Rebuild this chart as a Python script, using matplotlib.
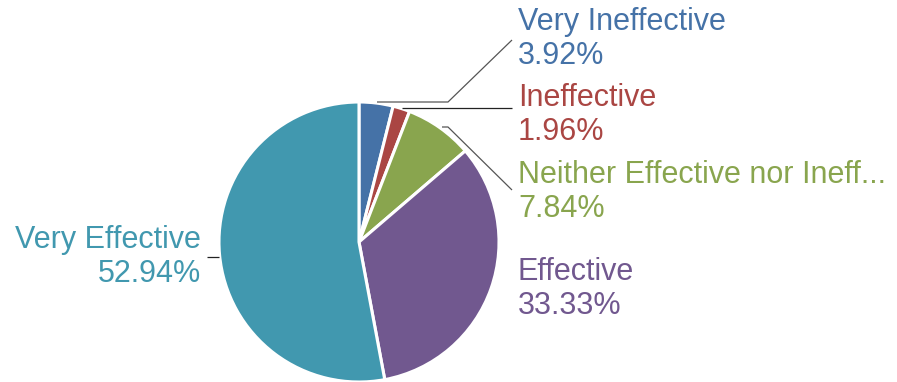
import matplotlib.pyplot as plt

# data
labels = ['Very Ineffective', 'Ineffective', 'Neither Effective nor Ineff...',
          'Effective', 'Very Effective']
pcts = [3.92, 1.96, 7.84, 33.33, 52.94]
colors = ['#4572A7', '#AA4643', '#89A54E', '#71588F', '#4198AF']

plt.rcParams['font.family'] = ['Liberation Sans', 'DejaVu Sans']

W, H = 897, 382
fig = plt.figure(figsize=(W / 100, H / 100), dpi=100)
ax = fig.add_axes([0, 0, 1, 1])
ax.set_xlim(0, W)
ax.set_ylim(0, H)
ax.set_aspect('equal')
ax.axis('off')

cx, cy, r = 359, H - 242, 140
ax.pie(pcts, colors=colors, startangle=90, counterclock=False,
       center=(cx, cy), radius=r, explode=[0.015] * 5,
       wedgeprops=dict(edgecolor='white', linewidth=2.2))
ax.set_xlim(0, W)
ax.set_ylim(0, H)

# label positions (pixel coords from top)
pos = [(518, 22), (518, 98), (518, 175), (518, 272), (201, 240)]
fs = 22
for (x, y), lab, p, c in zip(pos, labels, pcts, colors):
    ha = 'right' if x < cx else 'left'
    ax.text(x, H - y, lab, color=c, fontsize=fs, ha=ha, va='center')
    ax.text(x, H - y - 34, f'{p:.2f}%', color=c, fontsize=fs, ha=ha, va='center')

# leader lines
def line(pts, col):
    ax.plot([p[0] for p in pts], [H - p[1] for p in pts], color=col, lw=0.9,
            solid_capstyle='butt')

line([(377, 102), (448, 102), (512, 40)], '#555555')
line([(402, 108), (512, 108)], '#222222')
line([(442, 127), (448, 127), (512, 190)], '#555555')
line([(207, 257), (219, 257)], '#222222')

fig.savefig('out.png', dpi=100)
